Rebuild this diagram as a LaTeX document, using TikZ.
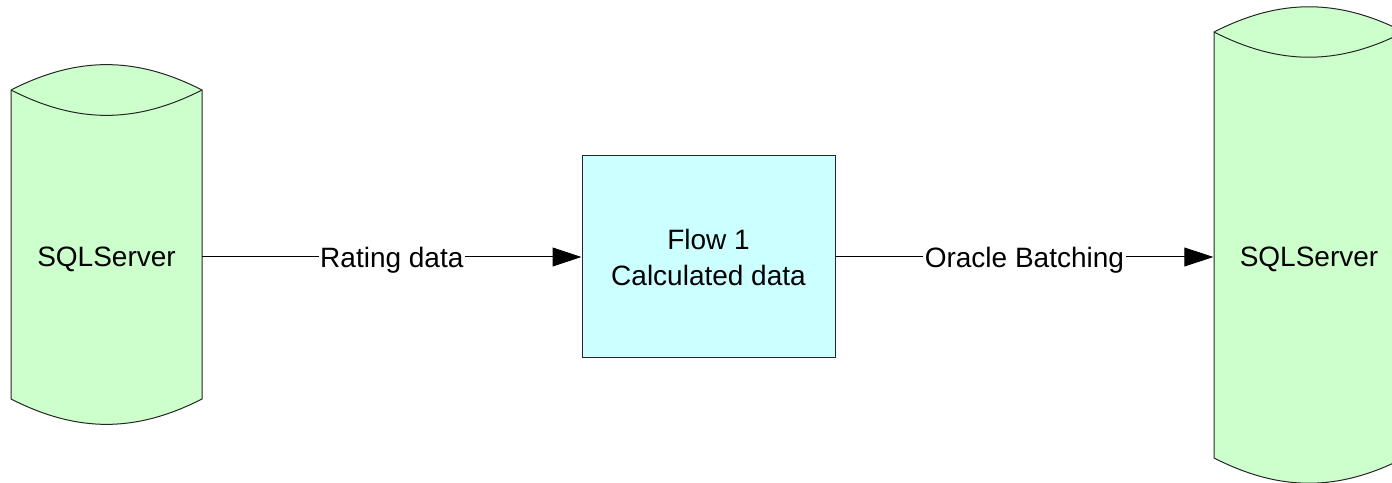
\documentclass[tikz,border=0pt]{standalone}
\usepackage{fontspec}
\setmainfont{Liberation Sans}
\usetikzlibrary{arrows.meta}

\definecolor{dbgreen}{RGB}{204,255,204}
\definecolor{flowcyan}{RGB}{204,255,255}
\tikzset{
  dbfill/.style={draw=black!85,fill=dbgreen,line width=1pt},
  dbtxt/.style={minimum width=191pt,inner sep=0pt,text depth=0pt},
  flowbox/.style={draw=black!85,fill=flowcyan,line width=1pt,minimum width=253pt,minimum height=202pt,align=center},
  flowarrow/.style={draw=black,line width=1pt,-{Triangle[length=29pt,width=19pt]}},
  lbl/.style={fill=white,inner sep=1.5pt,text depth=0pt}
}

\begin{document}
\begin{tikzpicture}[x=1pt,y=1pt,every node/.style={font=\fontsize{28}{36}\selectfont}] % 1 unidad = 1 pixel de la imagen
  \clip (0,0) rectangle (1392,482);
  \draw[dbfill] (11,392) -- (11,83) to[out=-27,in=-153] (202,83) -- (202,392) to[out=153,in=27] (11,392) -- cycle;
  \draw[dbfill] (11,392) to[out=-27,in=-153] (202,392);
  \draw[dbfill] (1214,450) -- (1214,24) to[out=-27,in=-153] (1404,24) -- (1404,450) to[out=153,in=27] (1214,450) -- cycle;
  \draw[dbfill] (1214,450) to[out=-27,in=-153] (1404,450);
  \node[dbtxt] (src) at (106.5,225) {SQLServer};
  \node[flowbox] (flow) at (708.5,225) {Flow 1\\Calculated data};
  \node[dbtxt] (dst) at (1309,225) {SQLServer};
  \draw[flowarrow] (src) -- node[lbl]{Rating data} (flow);
  \draw[flowarrow] (flow) -- node[lbl]{Oracle Batching} (dst);
\end{tikzpicture}
\end{document}
